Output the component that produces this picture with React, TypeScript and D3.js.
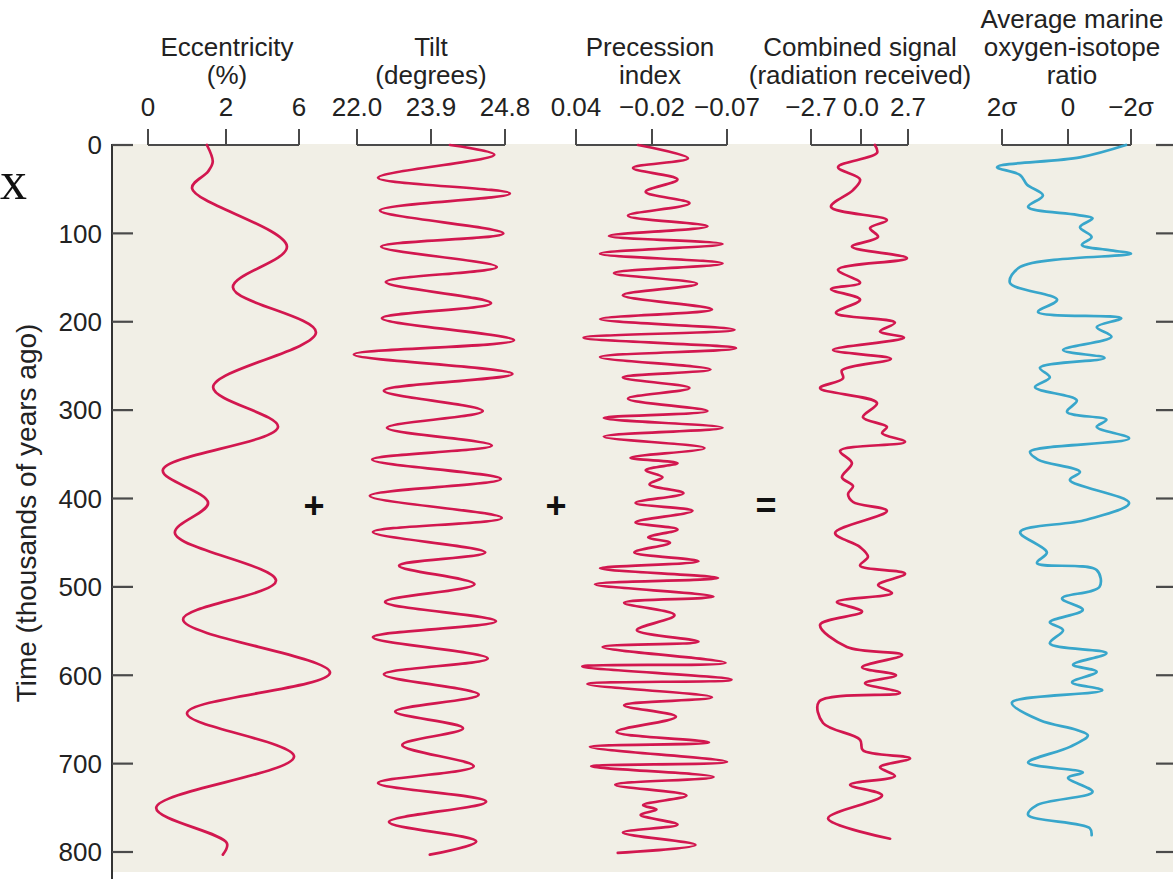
import React from "react";
import * as d3 from "d3";

// ---------- DATA ----------
const timeTicks = [0, 100, 200, 300, 400, 500, 600, 700, 800];

// Eccentricity (%)
const eccTicks = [0, 2, 6];
const eccTickLabels = ["0", "2", "6"];
const eccTime = [0, 19, 30, 49, 115, 161, 212, 274, 319, 368, 405, 439, 493, 537, 597, 643, 692, 750, 790, 803];
const eccValue = [1.51, 1.66, 1.54, 1.13, 5.34, 2.38, 6.93, 1.67, 4.85, 0.38, 1.54, 0.69, 4.74, 0.9, 7.7, 1.0, 5.73, 0.21, 2.05, 1.92];

// Tilt (degrees)
const tiltTicks = [22.0, 23.9, 24.8];
const tiltTickLabels = ["22.0", "23.9", "24.8"];
const tiltTime = [0, 11, 37, 55, 74, 100, 115, 138, 155, 179, 196, 221, 237, 259, 278, 301, 320, 340, 356, 378, 397, 422, 438, 461, 476, 497, 517, 539, 557, 581, 599, 622, 641, 660, 679, 703, 722, 743, 766, 788, 803];
const tiltValue = [24.13, 24.67, 22.54, 24.86, 22.59, 24.78, 22.62, 24.7, 22.74, 24.63, 22.64, 24.91, 21.92, 24.89, 22.69, 24.53, 22.77, 24.64, 22.39, 24.75, 22.33, 24.76, 22.41, 24.56, 23.08, 24.43, 22.72, 24.69, 22.41, 24.59, 22.69, 24.48, 22.98, 24.29, 23.16, 24.42, 22.54, 24.57, 22.82, 24.45, 23.87];

// Precession index
const precTicks = [0.04, -0.02, -0.07];
const precTickLabels = ["0.04", "\u22120.02", "\u22120.07"];
const precTime = [0, 15, 26, 39, 53, 66, 80, 92, 103, 112, 123, 134, 145, 157, 170, 186, 197, 209, 218, 230, 240, 254, 263, 275, 287, 301, 309, 320, 330, 343, 354, 360, 368, 376, 384, 394, 405, 414, 427, 435, 444, 450, 461, 471, 479, 490, 497, 511, 518, 532, 549, 562, 568, 586, 590, 605, 610, 625, 634, 647, 664, 676, 681, 698, 703, 715, 724, 736, 747, 752, 758, 769, 778, 792, 801];
const precValue = [-0.009, -0.044, -0.005, -0.037, -0.015, -0.045, -0.001, -0.057, 0.014, -0.067, 0.021, -0.067, 0.01, -0.05, 0.003, -0.06, 0.021, -0.075, 0.034, -0.076, 0.021, -0.059, 0.003, -0.045, -0.001, -0.057, 0.018, -0.067, 0.018, -0.055, -0.003, -0.037, -0.015, -0.027, -0.018, -0.041, -0.007, -0.047, -0.007, -0.037, -0.017, -0.032, -0.006, -0.051, 0.021, -0.064, 0.025, -0.061, 0.002, -0.035, -0.008, -0.051, 0.019, -0.069, 0.035, -0.073, 0.031, -0.06, 0.002, -0.036, 0.008, -0.058, 0.029, -0.07, 0.028, -0.061, 0.009, -0.043, -0.013, -0.023, -0.011, -0.037, 0.003, -0.049, 0.007];

// Combined signal (radiation received)
const combTicks = [-2.7, 0, 2.7];
const combTickLabels = ["\u22122.7", "0.0", "2.7"];
const combTime = [0, 9, 25, 39, 51, 70, 85, 94, 104, 115, 128, 141, 156, 163, 175, 190, 201, 211, 218, 232, 242, 255, 264, 275, 292, 308, 319, 326, 336, 346, 360, 376, 386, 395, 404, 414, 439, 455, 466, 476, 485, 498, 507, 517, 528, 543, 568, 577, 591, 600, 609, 620, 630, 654, 673, 685, 694, 704, 714, 724, 736, 762, 785];
const combValue = [0.8, 0.92, -1.24, -0.05, -0.43, -1.62, 1.49, 0.52, 0.98, -0.49, 2.64, -1.24, -0.05, -1.62, -0.05, -1.35, 1.95, 1.09, 2.47, -1.51, 1.72, -1.03, -0.97, -2.21, 0.92, 0.11, 1.49, 1.21, 2.53, -1.13, -0.49, -1.03, -0.43, -0.7, -0.43, 1.49, -1.4, -0.05, 0.4, -0.05, 2.53, 0.98, 1.78, -1.3, 0.06, -2.21, -0.76, 2.36, 0.06, 2.01, 0.23, 2.24, -2.27, -2.05, -0.05, 0.11, 2.82, 1.09, 1.95, -0.59, 1.21, -1.78, 1.67];

// Average marine oxygen-isotope ratio (sigma units)
const isoTicks = [2, 0, -2];
const isoTickLabels = ["2\u03c3", "0", "\u22122\u03c3"];
const isoTime = [0, 14, 25, 34, 45, 57, 70, 79, 83, 93, 104, 113, 119, 123, 138, 156, 175, 189, 196, 206, 217, 232, 241, 252, 263, 274, 289, 302, 311, 319, 332, 347, 356, 370, 379, 405, 424, 438, 461, 473, 481, 500, 513, 526, 540, 549, 564, 575, 588, 596, 608, 617, 631, 651, 662, 668, 681, 699, 710, 716, 732, 747, 758, 773, 781];
const isoValue = [-1.84, -0.38, 2.15, 1.45, 1.24, 0.76, 1.21, -0.28, -0.78, -0.38, -0.75, -0.44, -1.31, -2.0, 1.45, 1.76, 0.33, 0.91, -1.69, -0.91, -1.38, 0.15, -1.16, 0.85, 0.55, 1.0, -0.28, 0.03, -1.22, -0.91, -1.94, 1.15, 0.91, -0.38, -0.06, -1.94, -0.59, 1.45, 0.64, 0.94, -0.91, -1.0, 0.18, -0.47, 0.55, 0.15, 0.55, -1.22, -0.16, -0.91, -0.13, -1.09, 1.7, 0.85, -0.28, -0.63, -0.06, 1.21, -0.47, 0, -0.78, 0.94, 1.21, -0.69, -0.75];

// ---------- LAYOUT ----------
const W = 1173;
const H = 879;
const FONT = "'Liberation Sans', Arial, Helvetica, sans-serif";
const RED = "#d2174f";
const BLUE = "#38a6cb";
const TEXT = "#222222";
const AXIS = "#4a4a4a";
const FS = 26;

const yScale = d3.scaleLinear().domain([0, 800]).range([145, 852]);

type Panel = {
  titles: string[];
  titleX: number;
  ticks: number[];
  labels: string[];
  range: number[];
  time: number[];
  value: number[];
  color: string;
};

const panels: Panel[] = [
  { titles: ["Eccentricity", "(%)"], titleX: 227, ticks: eccTicks, labels: eccTickLabels, range: [148, 226, 299], time: eccTime, value: eccValue, color: RED },
  { titles: ["Tilt", "(degrees)"], titleX: 431, ticks: tiltTicks, labels: tiltTickLabels, range: [357, 431, 505], time: tiltTime, value: tiltValue, color: RED },
  { titles: ["Precession", "index"], titleX: 650, ticks: precTicks, labels: precTickLabels, range: [576, 652, 727], time: precTime, value: precValue, color: RED },
  { titles: ["Combined signal", "(radiation received)"], titleX: 860, ticks: combTicks, labels: combTickLabels, range: [811, 861, 908], time: combTime, value: combValue, color: RED },
  { titles: ["Average marine", "oxygen-isotope", "ratio"], titleX: 1072, ticks: isoTicks, labels: isoTickLabels, range: [1002, 1068, 1131], time: isoTime, value: isoValue, color: BLUE },
];

export default function App() {
  const plotTop = yScale(0) - 1;
  return (
    <svg
      width={W}
      height={H}
      viewBox={`0 0 ${W} ${H}`}
      style={{ position: "absolute", left: 0, top: 0, background: "#ffffff" }}
      fontFamily={FONT}
    >
      <rect x={0} y={0} width={W} height={H} fill="#ffffff" />
      {/* plot background */}
      <rect x={112} y={plotTop} width={W - 112} height={872 - plotTop} fill="#f1efe6" />

      {/* stray glyph at top-left */}
      <text x={0} y={199} fontFamily="'Liberation Serif', 'DejaVu Serif', serif" fontSize={54} fill="#111">x</text>

      {/* left axis */}
      <line x1={112} x2={112} y1={plotTop} y2={H} stroke="#333" strokeWidth={2} />
      {timeTicks.map((t) => (
        <g key={"lt" + t}>
          <line x1={112} x2={133} y1={yScale(t)} y2={yScale(t)} stroke={AXIS} strokeWidth={2.2} />
          <line x1={1156} x2={W} y1={yScale(t)} y2={yScale(t)} stroke={AXIS} strokeWidth={2.2} />
          <text x={102} y={yScale(t) + 9.3} textAnchor="end" fontSize={FS} fill={TEXT}>
            {t}
          </text>
        </g>
      ))}
      <text
        transform={`translate(36, 513) rotate(-90)`}
        textAnchor="middle"
        fontSize={28}
        fill={TEXT}
      >
        Time (thousands of years ago)
      </text>

      {/* panels */}
      {panels.map((p, i) => {
        const x = d3.scaleLinear().domain(p.ticks).range(p.range);
        const pts = p.time.map((t, k) => [t, p.value[k]] as [number, number]);
        const line = d3
          .line<[number, number]>()
          .x((d) => x(d[1]))
          .y((d) => yScale(d[0]))
          .curve(d3.curveCatmullRom.alpha(0.5));
        const n = p.titles.length;
        const baseY = yScale(0);
        return (
          <g key={"p" + i}>
            {p.titles.map((s, k) => (
              <text key={k} x={p.titleX} y={84 - (n - 1 - k) * 28} textAnchor="middle" fontSize={FS} fill={TEXT}>
                {s}
              </text>
            ))}
            <line x1={x(p.ticks[0])} x2={x(p.ticks[p.ticks.length - 1])} y1={baseY} y2={baseY} stroke={AXIS} strokeWidth={2} />
            {p.ticks.map((tk, k) => (
              <g key={"tk" + k}>
                <line x1={x(tk)} x2={x(tk)} y1={baseY} y2={baseY - 16} stroke={AXIS} strokeWidth={2} />
                <text x={x(tk)} y={116} textAnchor="middle" fontSize={FS} fill={TEXT}>
                  {p.labels[k]}
                </text>
              </g>
            ))}
            <path d={line(pts) || ""} fill="none" stroke={p.color} strokeWidth={2.7} strokeLinejoin="round" strokeLinecap="round" />
          </g>
        );
      })}

      {/* operators */}
      <text x={314} y={505} textAnchor="middle" dominantBaseline="central" fontSize={36} fontWeight="bold" fill="#111">+</text>
      <text x={556} y={505} textAnchor="middle" dominantBaseline="central" fontSize={36} fontWeight="bold" fill="#111">+</text>
      <text x={766} y={505} textAnchor="middle" dominantBaseline="central" fontSize={36} fontWeight="bold" fill="#111">=</text>
    </svg>
  );
}
